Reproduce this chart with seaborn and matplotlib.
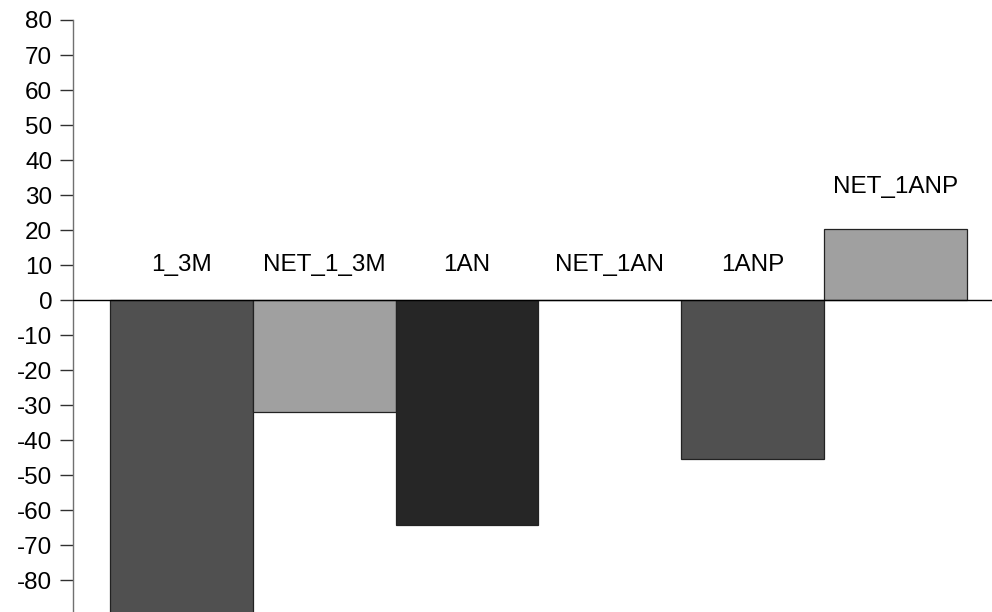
import matplotlib
matplotlib.use("Agg")
import matplotlib.pyplot as plt
import seaborn as sns
import pandas as pd

categories = ["1_3M", "NET_1_3M", "1AN", "NET_1AN", "1ANP", "NET_1ANP"]
values = [-89.5, -32.0, -64.2, 0.0, -45.3, 20.2]
colors = ["#505050", "#a0a0a0", "#262626", "#ffffff", "#505050", "#a0a0a0"]
yticks = list(range(-80, 81, 10))

sns.set_theme(style="white")
plt.rcParams["font.family"] = ["Liberation Sans", "DejaVu Sans"]
plt.rcParams["axes.unicode_minus"] = False

df = pd.DataFrame({"cat": categories, "val": values})

fig = plt.figure(figsize=(9.92, 6.12), dpi=100)
ax = fig.add_axes([73 / 992, 0.0, 1 - 73 / 992, 1 - 20 / 612])

sns.barplot(data=df, x="cat", y="val", hue="cat", palette=colors, width=1.0,
            edgecolor="#222222", linewidth=0.9, legend=False, ax=ax, saturation=1)

ax.axhline(0, color="black", linewidth=1.0, zorder=3)

for i, (c, v) in enumerate(zip(categories, values)):
    ty = v + 12 if v > 0 else 10
    ax.text(i, ty, c, ha="center", va="center", fontsize=17.5, color="black")

ax.set_ylim(-89.1, 80)
ax.set_xlim(-0.759, 5.675)
ax.set_yticks(yticks)
ax.set_yticklabels([str(t) for t in yticks], fontsize=17.5)
ax.set_xticks([])
ax.set_xlabel("")
ax.set_ylabel("")
for s in ["top", "right", "bottom"]:
    ax.spines[s].set_visible(False)
ax.spines["left"].set_color("#707070")
ax.spines["left"].set_linewidth(1.0)
ax.tick_params(axis="y", which="major", direction="out", length=9.5, width=1,
               color="#303030", pad=5.5, left=True, labelcolor="black")

fig.savefig("out.png", dpi=100)
